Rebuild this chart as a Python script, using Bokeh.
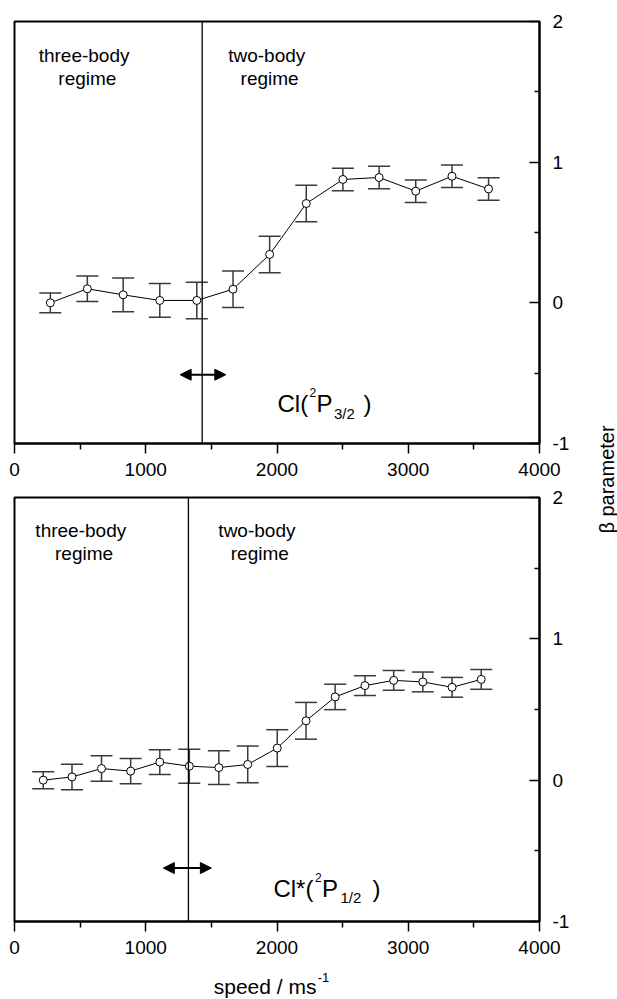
import math
from bokeh.plotting import figure
from bokeh.models import (Range1d, LinearAxis, FixedTicker, ColumnDataSource, Whisker,
                          TeeHead, Span, Arrow, NormalHead, Label)
from bokeh.layouts import row, column
from bokeh.embed import file_html
from bokeh.resources import INLINE

# ---------------- data ----------------
speed_ground = [273, 555, 828, 1107, 1389, 1665, 1944, 2223, 2502, 2778, 3057, 3333, 3612]
beta_ground = [0.0, 0.10, 0.057, 0.017, 0.017, 0.097, 0.344, 0.706, 0.877, 0.891, 0.794, 0.90, 0.81]
err_ground = [0.07, 0.09, 0.12, 0.12, 0.13, 0.13, 0.13, 0.13, 0.08, 0.08, 0.08, 0.08, 0.08]

speed_excited = [219, 438, 663, 885, 1107, 1332, 1557, 1777, 2002, 2221, 2443, 2670, 2889, 3111, 3334, 3556]
beta_excited = [0.0, 0.023, 0.082, 0.064, 0.128, 0.099, 0.089, 0.111, 0.227, 0.42, 0.589, 0.669,
                0.706, 0.695, 0.657, 0.713]
err_excited = [0.06, 0.09, 0.09, 0.09, 0.088, 0.12, 0.12, 0.13, 0.13, 0.13, 0.09, 0.07, 0.07, 0.07, 0.07, 0.07]

boundary_ground = 1430
boundary_excited = 1325

x_major = [0, 1000, 2000, 3000, 4000]
x_minor = [500, 1500, 2500, 3500]
y_major = [-1, 0, 1, 2]
y_minor = [-0.5, 0.5, 1.5]

FONT = "Liberation Sans"


def panel(height, top, bottom, xs, ys, errs, boundary, arrow_x, arrow_y):
    p = figure(width=593, height=height, x_range=Range1d(0, 4000), y_range=Range1d(-1, 2),
               x_axis_location=None, y_axis_location=None, output_backend="svg",
               toolbar_location=None, min_border_left=14, min_border_right=54,
               min_border_top=top, min_border_bottom=bottom)
    p.outline_line_color = "black"
    p.outline_line_width = 2
    p.background_fill_color = "white"
    p.border_fill_color = "white"
    p.grid.visible = False

    xaxis = LinearAxis(ticker=FixedTicker(ticks=x_major, minor_ticks=x_minor),
                       major_tick_in=0, major_tick_out=10, minor_tick_in=0, minor_tick_out=6,
                       axis_line_width=2, major_tick_line_width=1.5, minor_tick_line_width=1.5,
                       major_label_text_font=FONT, major_label_text_font_size="19px",
                       major_label_text_color="black", major_label_standoff=9)
    p.add_layout(xaxis, "below")
    yaxis = LinearAxis(ticker=FixedTicker(ticks=y_major, minor_ticks=y_minor),
                       major_tick_in=10, major_tick_out=0, minor_tick_in=5, minor_tick_out=0,
                       axis_line_width=2, major_tick_line_width=1.5, minor_tick_line_width=1.5,
                       major_label_text_font=FONT, major_label_text_font_size="19px",
                       major_label_text_color="black", major_label_standoff=13,
                       major_label_overrides={-1: "-1"})
    p.add_layout(yaxis, "right")

    p.add_layout(Span(location=boundary, dimension="height", line_color="black", line_width=1.3))
    p.add_layout(Arrow(start=NormalHead(size=11, fill_color="black", line_color="black"),
                       end=NormalHead(size=11, fill_color="black", line_color="black"),
                       x_start=arrow_x[0], x_end=arrow_x[1], y_start=arrow_y, y_end=arrow_y,
                       line_width=2, line_color="black"))

    src = ColumnDataSource(dict(x=xs, y=ys,
                                upper=[y + e for y, e in zip(ys, errs)],
                                lower=[y - e for y, e in zip(ys, errs)]))
    p.add_layout(Whisker(base="x", upper="upper", lower="lower", source=src,
                         line_color="#3a3a3a", line_width=1.5,
                         upper_head=TeeHead(size=22, line_color="#3a3a3a", line_width=1.5),
                         lower_head=TeeHead(size=22, line_color="#3a3a3a", line_width=1.5)))
    p.line("x", "y", source=src, line_color="black", line_width=1)
    p.scatter("x", "y", source=src, size=8, fill_color="white", line_color="black", line_width=1)
    return p


def txt(p, x, y, s, size="19px", align="center", baseline="middle", xo=0, yo=0):
    p.add_layout(Label(x=x, y=y, text=s, text_font=FONT, text_font_size=size,
                       text_align=align, text_baseline=baseline, text_color="black",
                       x_offset=xo, y_offset=yo))


p1 = panel(487, 21, 44, speed_ground, beta_ground, err_ground, boundary_ground, (1262, 1610), -0.511)
txt(p1, 530, 1.758, "three-body")
txt(p1, 555, 1.595, "regime")
txt(p1, 1922, 1.758, "two-body")
txt(p1, 1944, 1.595, "regime")
# Cl(2P3/2)
bx, by = 2004, -0.719
txt(p1, bx, by, "Cl(", "24px", "left", "alphabetic")
txt(p1, bx, by, "2", "12px", "left", "alphabetic", xo=32, yo=11)
txt(p1, bx, by, "P", "24px", "left", "alphabetic", xo=39)
txt(p1, bx, by, "3/2", "15px", "left", "alphabetic", xo=56.5, yo=-9.5)
txt(p1, bx, by, ")", "24px", "left", "alphabetic", xo=86)

p2 = panel(478, 10, 44, speed_excited, beta_excited, err_excited, boundary_excited, (1134, 1500), -0.622)
txt(p2, 505, 1.766, "three-body")
txt(p2, 530, 1.603, "regime")
txt(p2, 1847, 1.766, "two-body")
txt(p2, 1869, 1.603, "regime")
bx, by = 1973, -0.766
txt(p2, bx, by, "Cl*(", "24px", "left", "alphabetic")
txt(p2, bx, by, "2", "12px", "left", "alphabetic", xo=41.5, yo=11)
txt(p2, bx, by, "P", "24px", "left", "alphabetic", xo=48.5)
txt(p2, bx, by, "1/2", "15px", "left", "alphabetic", xo=67, yo=-9.5)
txt(p2, bx, by, ")", "24px", "left", "alphabetic", xo=99)

# x-axis title strip
p4 = figure(width=593, height=34, x_range=Range1d(0, 593), y_range=Range1d(0, 34),
            x_axis_location=None, y_axis_location=None, output_backend="svg",
            toolbar_location=None, min_border=0)
p4.outline_line_color = None
p4.grid.visible = False
txt(p4, 225, 2, "speed / ms", "21px", "left", "bottom")
txt(p4, 225, 18, "-1", "13px", "left", "bottom", xo=104)

# shared y-axis title
p3 = figure(width=24, height=999, x_range=Range1d(0, 24), y_range=Range1d(0, 999),
            x_axis_location=None, y_axis_location=None, output_backend="svg",
            toolbar_location=None, min_border=0)
p3.outline_line_color = None
p3.grid.visible = False
p3.add_layout(Label(x=13, y=520, text="\u03b2 parameter", angle=math.pi / 2, text_font=FONT,
                    text_font_size="20px", text_align="center", text_baseline="middle",
                    text_color="black"))

layout = row(column(p1, p2, p4), p3)
open("out.html", "w").write(file_html(layout, INLINE))
